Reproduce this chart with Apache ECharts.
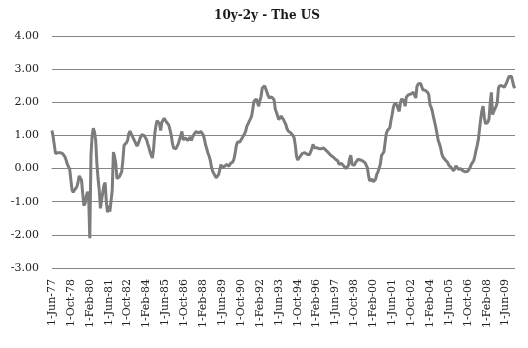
<!DOCTYPE html>
<html>
<head>
<meta charset="utf-8">
<script src="https://cdn.jsdelivr.net/npm/echarts@6/dist/echarts.min.js"></script>
<style>
  html, body { margin: 0; padding: 0; background: #fff; }
  #chart { width: 528px; height: 348px; }
</style>
</head>
<body>
<div id="chart"></div>
<script>
// US Treasury 10-year minus 2-year yield spread (%), monthly from Jun 1977
const startYear = 1977;
const startMonth = 5; // June (0-based)
const monthNames = ['Jan','Feb','Mar','Apr','May','Jun','Jul','Aug','Sep','Oct','Nov','Dec'];

const spread = [
  // Jun-77 .. May-78
  1.15, 0.95, 0.70, 0.45, 0.50, 0.48, 0.50, 0.48, 0.50, 0.45, 0.43, 0.35,
  // Jun-78 .. May-79
  0.25, 0.13, 0.05, -0.02, -0.35, -0.65, -0.72, -0.65, -0.62, -0.55, -0.42, -0.22,
  // Jun-79 .. May-80
  -0.20, -0.35, -0.75, -1.12, -1.05, -0.85, -0.70, -0.80, -2.10, 0.40, 1.00, 1.22,
  // Jun-80 .. May-81
  1.10, 0.85, 0.15, -0.30, -0.65, -1.20, -0.95, -0.72, -0.50, -0.42, -1.00, -1.32,
  // Jun-81 .. May-82
  -1.12, -1.30, -1.30, -0.65, 0.50, 0.35, 0.15, -0.30, -0.30, -0.25, -0.17, -0.10,
  // Jun-82 .. May-83
  0.25, 0.70, 0.75, 0.78, 0.85, 1.05, 1.13, 1.05, 0.98, 0.90, 0.83, 0.75,
  // Jun-83 .. May-84
  0.68, 0.75, 0.80, 0.95, 1.02, 1.00, 1.00, 0.97, 0.88, 0.75, 0.65, 0.50,
  // Jun-84 .. May-85
  0.40, 0.32, 0.60, 1.05, 1.30, 1.45, 1.40, 1.35, 1.15, 1.40, 1.45, 1.52,
  // Jun-85 .. May-86
  1.48, 1.40, 1.38, 1.30, 1.15, 1.00, 0.75, 0.62, 0.57, 0.60, 0.62, 0.75,
  // Jun-86 .. May-87
  0.88, 1.00, 1.12, 0.87, 0.90, 0.92, 0.88, 0.85, 0.90, 0.95, 0.85, 0.95,
  // Jun-87 .. May-88
  1.02, 1.08, 1.12, 1.10, 1.07, 1.10, 1.12, 1.08, 1.02, 0.90, 0.72, 0.60,
  // Jun-88 .. May-89
  0.47, 0.38, 0.25, 0.05, -0.08, -0.15, -0.21, -0.28, -0.25, -0.18, -0.05, 0.12,
  // Jun-89 .. May-90
  0.02, -0.03, 0.07, 0.10, 0.12, 0.10, 0.07, 0.15, 0.10, 0.20, 0.28, 0.45,
  // Jun-90 .. May-91
  0.68, 0.80, 0.83, 0.80, 0.83, 0.92, 0.98, 1.05, 1.13, 1.28, 1.35, 1.43,
  // Jun-91 .. May-92
  1.50, 1.58, 1.80, 2.03, 2.08, 2.10, 2.08, 1.88, 2.05, 2.18, 2.43, 2.48,
  // Jun-92 .. May-93
  2.50, 2.48, 2.30, 2.20, 2.13, 2.15, 2.16, 2.12, 2.08, 1.80, 1.70, 1.68,
  // Jun-93 .. May-94
  1.48, 1.52, 1.58, 1.55, 1.48, 1.40, 1.33, 1.20, 1.13, 1.10, 1.08, 1.03,
  // Jun-94 .. May-95
  1.00, 0.93, 0.70, 0.38, 0.26, 0.30, 0.36, 0.42, 0.46, 0.47, 0.48, 0.46,
  // Jun-95 .. May-96
  0.43, 0.38, 0.42, 0.48, 0.60, 0.73, 0.63, 0.65, 0.63, 0.63, 0.60, 0.58,
  // Jun-96 .. May-97
  0.60, 0.60, 0.62, 0.56, 0.55, 0.52, 0.48, 0.43, 0.40, 0.38, 0.35, 0.30,
  // Jun-97 .. May-98
  0.28, 0.25, 0.23, 0.13, 0.15, 0.16, 0.12, 0.08, 0.04, 0.00, 0.05, 0.10,
  // Jun-98 .. May-99
  0.30, 0.40, 0.13, 0.12, 0.10, 0.18, 0.23, 0.28, 0.27, 0.26, 0.25, 0.23,
  // Jun-99 .. May-00
  0.20, 0.18, 0.10, 0.03, -0.22, -0.37, -0.35, -0.32, -0.40, -0.35, -0.32, -0.17,
  // Jun-00 .. May-01
  -0.10, -0.05, 0.13, 0.40, 0.45, 0.50, 0.78, 1.05, 1.15, 1.20, 1.23, 1.45,
  // Jun-01 .. May-02
  1.63, 1.85, 1.95, 1.98, 1.93, 1.80, 1.73, 1.98, 2.10, 2.08, 2.05, 1.88,
  // Jun-02 .. May-03
  2.16, 2.20, 2.23, 2.28, 2.25, 2.23, 2.30, 2.25, 2.13, 2.48, 2.55, 2.60,
  // Jun-03 .. May-04
  2.57, 2.53, 2.38, 2.37, 2.36, 2.33, 2.30, 2.23, 1.93, 1.85, 1.73, 1.55,
  // Jun-04 .. May-05
  1.40, 1.23, 1.05, 0.85, 0.75, 0.63, 0.45, 0.35, 0.30, 0.26, 0.22, 0.18,
  // Jun-05 .. May-06
  0.10, 0.05, 0.03, -0.02, -0.07, 0.00, 0.08, 0.13, -0.02, 0.02, 0.00, -0.04,
  // Jun-06 .. May-07
  -0.07, -0.09, -0.10, -0.10, -0.08, -0.05, 0.03, 0.13, 0.18, 0.23, 0.38, 0.55,
  // Jun-07 .. May-08
  0.70, 0.88, 1.20, 1.50, 1.75, 1.88, 1.55, 1.35, 1.35, 1.40, 1.50, 1.98,
  // Jun-08 .. May-09
  2.30, 1.63, 1.73, 1.80, 1.88, 2.00, 2.43, 2.50, 2.53, 2.50, 2.48, 2.45,
  // Jun-09 .. Feb-10
  2.43, 2.60, 2.70, 2.78, 2.80, 2.78, 2.73, 2.48, 2.43
];

const yTicks = { min: -3, max: 4, step: 1 };

// Month labels like "1-Jun-77", one per observation
const months = spread.map((_, i) => {
  const m = startMonth + i;
  const y = startYear + Math.floor(m / 12);
  return '1-' + monthNames[m % 12] + '-' + String(y % 100).padStart(2, '0');
});

const serif = "'DejaVu Serif', 'Liberation Serif', serif";
const chart = echarts.init(document.getElementById('chart'), null, { renderer: 'canvas' });

chart.setOption({
  animation: false,
  backgroundColor: '#ffffff',
  title: {
    text: '10y-2y - The US',
    left: 262,
    top: 5,
    textAlign: 'center',
    textStyle: { fontFamily: serif, fontWeight: 'bold', fontSize: 12, color: '#1a1a1a' }
  },
  grid: { left: 52, right: 13, top: 36, bottom: 80 },
  xAxis: {
    type: 'category',
    data: months,
    boundaryGap: false,
    axisLine: { show: true, lineStyle: { color: '#868686', width: 1 } },
    axisTick: { show: false },
    axisLabel: {
      interval: 15,
      rotate: 90,
      margin: 11,
      fontFamily: serif,
      fontSize: 11,
      color: '#222'
    },
    splitLine: { show: false }
  },
  yAxis: {
    type: 'value',
    min: yTicks.min,
    max: yTicks.max,
    interval: yTicks.step,
    axisLine: { show: false },
    axisTick: { show: false },
    axisLabel: {
      margin: 13,
      fontFamily: serif,
      fontSize: 11,
      color: '#222',
      formatter: v => v.toFixed(2)
    },
    splitLine: { show: true, lineStyle: { color: '#868686', width: 1 } }
  },
  series: [{
    type: 'line',
    data: spread,
    symbol: 'none',
    smooth: false,
    lineStyle: { color: '#7c7c7c', width: 3 }
  }]
});
</script>
</body>
</html>
